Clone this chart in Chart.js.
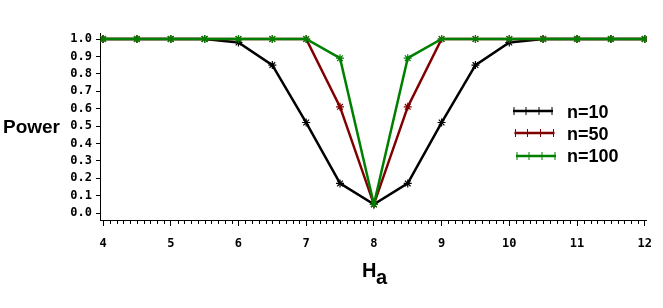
<!DOCTYPE html>
<html><head><meta charset="utf-8">
<script src="https://cdn.jsdelivr.net/npm/chart.js@4/dist/chart.umd.min.js"></script>
<style>html,body{margin:0;padding:0;background:#fff}#wrap{width:663px;height:308px;position:relative}</style>
</head><body><div id="wrap"><canvas id="c" width="663" height="308"></canvas></div>
<script>
const xValues = [4,4.5,5,5.5,6,6.5,7,7.5,8,8.5,9,9.5,10,10.5,11,11.5,12];
const power_n10  = [1,1,1,1,0.98,0.85,0.52,0.17,0.05,0.17,0.52,0.85,0.98,1,1,1,1];
const power_n50  = [1,1,1,1,1,1,1,0.61,0.05,0.61,1,1,1,1,1,1,1];
const power_n100 = [1,1,1,1,1,1,1,0.89,0.05,0.89,1,1,1,1,1,1,1];
const seriesNames = ['n=10','n=50','n=100'];
const seriesColors = ['#000000','#800000','#008000'];
const yTicks = [0,0.1,0.2,0.3,0.4,0.5,0.6,0.7,0.8,0.9,1.0];
const xTicks = [4,5,6,7,8,9,10,11,12];

const allSeries = [power_n10, power_n50, power_n100];
const datasets = allSeries.map((s,i)=>({
  label: seriesNames[i],
  data: xValues.map((x,j)=>({x:x,y:s[j]})),
  borderColor: seriesColors[i],
  backgroundColor: seriesColors[i],
  borderWidth: 2.5,
  pointStyle: 'star',
  pointRadius: 4,
  pointBorderWidth: 1.2,
  pointBorderColor: seriesColors[i],
  order: 2 - i,
  tension: 0
}));

const extras = {
  id: 'extras',
  afterDraw(chart){
    const ctx = chart.ctx;
    const xs = chart.scales.x;
    const ya = chart.chartArea;
    ctx.save();
    // minor x ticks
    ctx.strokeStyle = '#000'; ctx.lineWidth = 1;
    for (let k = 41; k < 120; k++){
      if (k % 10 === 0) continue;
      const px = Math.round(xs.getPixelForValue(k/10)) + 0.5;
      ctx.beginPath(); ctx.moveTo(px, ya.bottom); ctx.lineTo(px, ya.bottom + 4); ctx.stroke();
    }
    // axis titles
    ctx.fillStyle = '#000';
    ctx.font = 'bold 19px "Liberation Sans", Arial, sans-serif';
    ctx.textBaseline = 'alphabetic'; ctx.textAlign = 'left';
    ctx.fillText('Power', 3, 133);
    ctx.font = 'bold 20px "Liberation Sans", Arial, sans-serif';
    ctx.fillText('H', 362, 277);
    ctx.fillText('a', 376, 284);
    // legend
    const ly = [111,133,156];
    const lt = [118,140,162];
    ctx.font = 'bold 18px "Liberation Sans", Arial, sans-serif';
    for (let i = 0; i < 3; i++){
      const x0 = 513 + i*1.5, x1 = 553 + i*1.5;
      ctx.strokeStyle = seriesColors[i];
      ctx.lineWidth = 2.5;
      ctx.beginPath(); ctx.moveTo(x0, ly[i]); ctx.lineTo(x1, ly[i]); ctx.stroke();
      ctx.lineWidth = 1;
      [x0+1, x0+13, x0+26, x1-1].forEach(px=>{
        ctx.beginPath(); ctx.moveTo(px, ly[i]-4); ctx.lineTo(px, ly[i]+4); ctx.stroke();
      });
      ctx.fillStyle = '#000';
      ctx.fillText(seriesNames[i], 567, lt[i]);
    }
    ctx.restore();
  }
};

new Chart(document.getElementById('c'), {
  type: 'line',
  data: { datasets },
  options: {
    responsive: false,
    animation: false,
    layout: { padding: { top: 33, right: 16, left: 0, bottom: 0 } },
    plugins: { legend: { display: false }, tooltip: { enabled: false } },
    scales: {
      x: {
        type: 'linear',
        min: 3.955, max: 12.03,
        afterBuildTicks(s){ s.ticks = xTicks.map(v=>({value:v})); },
        afterFit(s){ s.height = 88; },
        border: { display: true, color: '#000', width: 1 },
        grid: { display: true, drawOnChartArea: false, drawTicks: true, tickLength: 6, color: '#000' },
        ticks: { autoSkip: false, maxRotation: 0, padding: 11, color: '#000',
          font: { family: '"DejaVu Sans Mono", monospace', weight: 'bold', size: 12 },
          callback: v => String(v) }
      },
      y: {
        type: 'linear',
        min: -0.0402, max: 1.0345,
        afterBuildTicks(s){ s.ticks = yTicks.map(v=>({value:v})); },
        afterFit(s){ s.width = 100; },
        border: { display: true, color: '#000', width: 1 },
        grid: { display: true, drawOnChartArea: false, drawTicks: true, tickLength: 4, color: '#000' },
        ticks: { padding: 4, color: '#000',
          font: { family: '"DejaVu Sans Mono", monospace', weight: 'bold', size: 12 },
          callback: v => Number(v).toFixed(1) }
      }
    }
  },
  plugins: [extras]
});
</script></body></html>
